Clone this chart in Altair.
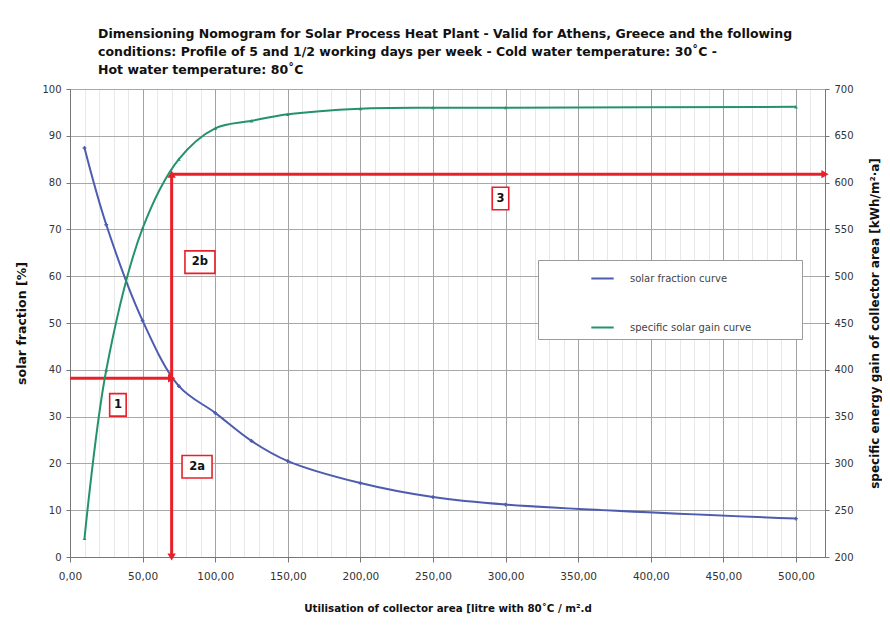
import altair as alt
import pandas as pd

# ---------------- data ----------------
x_vals = [10, 25, 50, 75, 100, 125, 150, 200, 250, 300, 500]
solar_fraction = [87.4, 71.0, 50.5, 36.5, 30.8, 24.8, 20.5, 15.8, 12.8, 11.2, 8.2]
solar_gain = [220, 400, 551, 625, 658, 666, 673, 679, 680, 680, 681]

series_names = ["solar fraction curve", "specific solar gain curve"]
series_colors = ["#4d5cae", "#24936a"]

# nomogram reading path (x in litre/m2.d, y in % on left axis)
read_x = 70
read_sf = 38.2
read_top = 81.8
x_min, x_max = 0, 520

# arrows: segments
arr_x = [x_min, read_x, read_x, read_x]
arr_x2 = [read_x, read_x, read_x, x_max]
arr_y = [read_sf, read_sf, read_sf, read_top]
arr_y2 = [read_sf, 0, read_top, read_top]

# arrow heads
head_x = [read_x, read_x, x_max, read_x]
head_y = [read_sf, 0, read_top, read_top]
head_shape = ["triangle-right", "triangle-down", "triangle-right", "triangle-up"]

# step labels
lab_text = ["1", "2b", "2a", "3"]
lab_x = [33, 89.5, 87.5, 296.5]
lab_y = [32.5, 63.0, 19.3, 76.6]
lab_kind = ["n", "w", "w", "n"]

title_lines = [
    "Dimensioning Nomogram for Solar Process Heat Plant - Valid for Athens, Greece and the following",
    "conditions:  Profile of 5 and 1/2 working days per week - Cold water temperature: 30˚C -",
    "Hot water temperature: 80˚C",
]

FONT = "DejaVu Sans"
RED = "#e8202a"

sf_df = pd.DataFrame({"x": x_vals, "v": solar_fraction, "series": series_names[0]})
sg_df = pd.DataFrame({"x": x_vals, "v": solar_gain, "series": series_names[1]})
arr_df = pd.DataFrame({"x": arr_x, "x2": arr_x2, "y": arr_y, "y2": arr_y2})
head_df = pd.DataFrame({"x": head_x, "y": head_y, "shape": head_shape})
lab_df = pd.DataFrame({"x": lab_x, "y": lab_y, "t": lab_text, "kind": lab_kind})

x_ticks = list(range(x_min, x_max + 1, 10))
xscale = alt.Scale(domain=[x_min, x_max], nice=False, zero=False)
yscale_l = alt.Scale(domain=[0, 100], nice=False)
yscale_r = alt.Scale(domain=[200, 700], nice=False)

x_axis = alt.Axis(
    values=x_ticks,
    tickCount=200,
    title="Utilisation of collector area [litre with 80˚C / m².d",
    labelExpr="datum.value % 50 === 0 ? replace(format(datum.value, '.2f'), '.', ',') : ''",
    gridColor={"condition": {"test": "datum.value % 50 === 0", "value": "#a3a3a3"}, "value": "#e8e8e8"},
    tickColor={"condition": {"test": "datum.value % 50 === 0", "value": "#777777"}, "value": "transparent"},
    tickSize=5,
    labelPadding=9,
    labelFontSize=10.5,
    labelColor="#333333",
    labelFont=FONT,
    labelOverlap=False,
    labelFlush=False,
    labelBound=False,
    titleFont=FONT,
    titleFontSize=10.3,
    titleFontWeight="bold",
    titleColor="#111111",
    titlePadding=22,
    domainColor="#777777",
)

y_axis_left = alt.Axis(
    values=list(range(0, 101, 10)), tickCount=50, title="solar fraction [%]",
    gridColor="#a8a8a8", tickColor="#777777", tickSize=4, labelPadding=5,
    labelFontSize=10, labelColor="#333333", labelFont=FONT,
    titleFont=FONT, titleFontSize=12.5, titleFontWeight="bold", titleColor="#111111",
    titlePadding=13, domainColor="#777777",
)

y_axis_right = alt.Axis(
    orient="right", values=list(range(200, 701, 50)), tickCount=50,
    title="specific energy gain of collector area [kWh/m²·a]",
    grid=False, tickColor="#777777", tickSize=4, labelPadding=5,
    labelFontSize=10, labelColor="#333333", labelFont=FONT,
    titleFont=FONT, titleFontSize=12, titleFontWeight="bold", titleColor="#111111",
    titleAngle=270, titlePadding=28, domainColor="#777777",
)

color_enc = alt.Color(
    "series:N",
    scale=alt.Scale(domain=series_names, range=series_colors),
    legend=alt.Legend(
        title=None,
        orient="none",
        legendX=468,
        legendY=171,
        symbolType="stroke",
        symbolStrokeWidth=2,
        symbolSize=500,
        symbolOffset=46,
        labelOffset=15,
        padding=6,
        rowPadding=31,
        labelFont=FONT,
        labelFontSize=10,
        labelColor="#444444",
        labelLimit=400,
        labelExpr="datum.label + '" + "\u2800" * 6 + "'",
        fillColor="white",
        strokeColor="#9a9a9a",
    ),
)

X0 = alt.X("x:Q", scale=xscale, axis=x_axis)
X = alt.X("x:Q", scale=xscale)
YL = alt.Y("y:Q", scale=yscale_l)

sf_line = alt.Chart(sf_df).mark_line(
    strokeWidth=2, interpolate="catmull-rom",
    point=alt.OverlayMarkDef(shape="cross", size=14, filled=True, color="#3a3f7a"),
).encode(
    x=X0,
    y=alt.Y("v:Q", scale=yscale_l, axis=y_axis_left),
    color=color_enc,
)

arrows = alt.Chart(arr_df).mark_rule(color=RED, strokeWidth=3).encode(
    x=X, x2="x2:Q", y=YL, y2="y2:Q",
)

heads = alt.Chart(head_df).mark_point(filled=True, color=RED, size=70, opacity=1).encode(
    x=X, y=YL,
    shape=alt.Shape("shape:N", scale=None, legend=None),
)

boxes = alt.Chart(lab_df).mark_point(
    filled=True, fill="white", stroke=RED, strokeWidth=1.6, size=900, opacity=1,
).encode(
    x=X, y=YL,
    shape=alt.Shape("kind:N", scale=alt.Scale(
        domain=["n", "w"],
        range=["M-0.55,-0.75L0.55,-0.75L0.55,0.75L-0.55,0.75Z",
               "M-1,-0.75L1,-0.75L1,0.75L-1,0.75Z"]), legend=None),
)

labels = alt.Chart(lab_df).mark_text(
    font=FONT, fontSize=11.5, fontWeight="bold", color="#111111"
).encode(
    x=X, y=YL, text="t:N",
)

sg_line = alt.Chart(sg_df).mark_line(
    strokeWidth=2, interpolate="catmull-rom",
    point=alt.OverlayMarkDef(shape="triangle-up", size=14, filled=True, color="#2a5a44"),
).encode(
    x=X,
    y=alt.Y("v:Q", scale=yscale_r, axis=y_axis_right),
    color=color_enc,
)

left_group = alt.layer(sf_line, arrows, heads, boxes, labels)

chart = alt.layer(left_group, sg_line).resolve_scale(y="independent").properties(
    width=755,
    height=468,
    autosize=alt.AutoSizeParams(type="none"),
    padding={"left": 62, "top": 81, "right": 57, "bottom": 63},
    title=alt.TitleParams(
        text=title_lines, anchor="start", frame="group", dx=28, offset=8,
        font=FONT, fontSize=12.5, fontWeight="bold", color="#111111", lineHeight=18,
    ),
    background="white",
).configure_view(stroke="#888888", strokeWidth=1)

chart.save("out.html", embed_options={"renderer": "svg", "actions": False})
